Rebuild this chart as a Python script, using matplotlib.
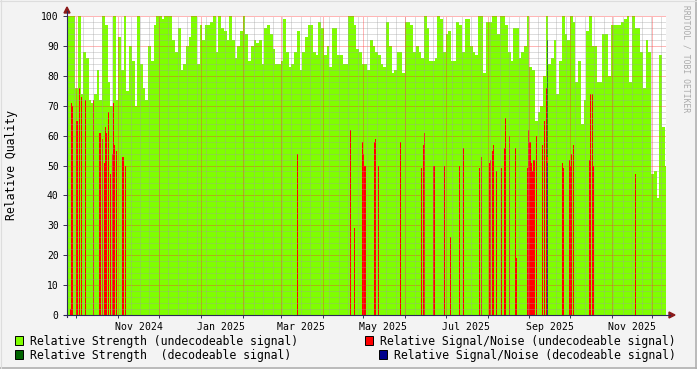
import numpy as np
import matplotlib
matplotlib.use('Agg')
import matplotlib.pyplot as plt
import matplotlib.dates as mdates
from matplotlib.patches import Rectangle, Polygon
from matplotlib.lines import Line2D
from datetime import datetime, timedelta

# ---- data ----
start = datetime(2024, 9, 24)
end = datetime(2025, 12, 11)

# relative strength (undecodeable), one value per 2 days from start
strength = [
    100, 100, 100, 76, 100, 74, 88, 86, 72, 71,
    74, 82, 72, 100, 97, 78, 70, 100, 72, 93,
    82, 100, 75, 90, 85, 70, 100, 84, 76, 72,
    90, 85, 97, 100, 100, 99, 100, 100, 100, 92,
    88, 96, 82, 84, 90, 93, 100, 100, 84, 97,
    92, 97, 97, 98, 100, 88, 100, 96, 95, 92,
    100, 92, 86, 90, 95, 100, 94, 85, 90, 92,
    91, 92, 84, 96, 97, 94, 89, 84, 84, 85,
    99, 88, 83, 84, 88, 95, 82, 88, 93, 97,
    97, 88, 87, 98, 96, 87, 90, 83, 96, 96,
    87, 87, 84, 84, 100, 100, 97, 89, 88, 84,
    84, 82, 92, 90, 88, 87, 84, 83, 98, 90,
    81, 82, 88, 88, 81, 98, 98, 97, 88, 90,
    88, 86, 100, 96, 85, 85, 86, 100, 99, 88,
    94, 95, 85, 85, 98, 97, 88, 99, 99, 90,
    88, 87, 100, 100, 81, 98, 98, 100, 100, 94,
    100, 100, 97, 88, 85, 96, 96, 86, 88, 90,
    100, 83, 82, 65, 68, 70, 80, 100, 84, 86,
    92, 74, 85, 100, 94, 92, 100, 98, 78, 85,
    64, 72, 95, 100, 90, 90, 78, 78, 94, 94,
    80, 97, 97, 97, 97, 98, 99, 100, 78, 100,
    96, 96, 88, 76, 92, 88, 47, 48, 39, 87,
    63, 50,
]

# relative signal/noise (undecodeable)
snr_dates = [
    '2024-09-26', '2024-09-27', '2024-09-28', '2024-10-01', '2024-10-03',
    '2024-10-04', '2024-10-07', '2024-10-13', '2024-10-18', '2024-10-20',
    '2024-10-21', '2024-10-22', '2024-10-23', '2024-10-24', '2024-10-26',
    '2024-10-27', '2024-10-28', '2024-10-29', '2024-10-30', '2024-11-04',
    '2024-11-06', '2025-03-13', '2025-04-21', '2025-04-24', '2025-04-30',
    '2025-05-01', '2025-05-02', '2025-05-09', '2025-05-10', '2025-05-12',
    '2025-05-28', '2025-06-13', '2025-06-14', '2025-06-15', '2025-06-22',
    '2025-06-30', '2025-07-04', '2025-07-11', '2025-07-14', '2025-07-26',
    '2025-07-27', '2025-08-02', '2025-08-03', '2025-08-04', '2025-08-05',
    '2025-08-07', '2025-08-11', '2025-08-13', '2025-08-14', '2025-08-17',
    '2025-08-21', '2025-08-22', '2025-08-30', '2025-08-31', '2025-09-01',
    '2025-09-02', '2025-09-03', '2025-09-04', '2025-09-06', '2025-09-10',
    '2025-09-12', '2025-09-13', '2025-09-14', '2025-09-25', '2025-09-26',
    '2025-09-30', '2025-10-01', '2025-10-02', '2025-10-03', '2025-10-15',
    '2025-10-16', '2025-10-17', '2025-10-18', '2025-11-18',
]
snr_vals = [
    2, 71, 70, 65, 76, 73, 72, 72, 61, 59,
    51, 63, 61, 68, 47, 54, 71, 57, 55, 53,
    50, 54, 62, 29, 58, 54, 50, 58, 59, 50,
    58, 49, 57, 61, 50, 50, 26, 50, 56, 49,
    53, 51, 52, 55, 57, 48, 49, 56, 66, 60,
    56, 19, 49, 62, 58, 51, 48, 52, 60, 57,
    65, 76, 53, 51, 49, 52, 50, 54, 57, 52,
    74, 74, 50, 47,
]

# decodeable signal
dec_dates = ['2025-09-14']
dec_strength = [92]
dec_snr = [51]

# ---- figure ----
W, H = 697, 369
L, R, T, B = 67, 666, 16, 315
fig = plt.figure(figsize=(W / 100, H / 100), dpi=100, facecolor='#F3F3F3')
ax = fig.add_axes([L / W, 1 - B / H, (R - L) / W, (B - T) / H])
ax.set_facecolor('white')

mono = 'DejaVu Sans Mono'
c_green = '#7FFF00'
c_dgreen = '#006400'
c_red = '#FF0000'
c_blue = '#00008B'

t0 = mdates.date2num(start)
t1 = mdates.date2num(end)
edges = t0 + 2 * np.arange(len(strength) + 1)
ax.stairs(strength, edges, fill=True, color=c_green, linewidth=0, zorder=1)

d_x = mdates.date2num([datetime.strptime(d, '%Y-%m-%d') for d in dec_dates])
s_x = mdates.date2num([datetime.strptime(d, '%Y-%m-%d') for d in snr_dates])
ax.bar(d_x, dec_strength, width=0.9, align='edge', color=c_dgreen,
       linewidth=0, antialiased=False, zorder=1.1)
ax.bar(s_x, snr_vals, width=0.8, align='edge', color=c_red,
       linewidth=0, antialiased=False, zorder=1.2)
ax.bar(d_x, dec_snr, width=0.9, align='edge', color=c_blue,
       linewidth=0, antialiased=False, zorder=1.3)

ax.set_xlim(t0, t1)
ax.set_ylim(0, 100)

# grid, rrdtool style dotted
dot = (0, (1, 1))
for v in range(2, 100, 2):
    if v % 10:
        ax.axhline(v, color='#A0A0A0', lw=0.72, ls=dot, alpha=0.35,
                   antialiased=False, zorder=3)
for v in range(10, 101, 10):
    ax.axhline(v, color='#FF3030', lw=0.72, ls=dot, alpha=0.35,
               antialiased=False, zorder=3)

wk = datetime(2024, 9, 29)
while wk < end:
    ax.axvline(mdates.date2num(wk), color='#A0A0A0', lw=0.72, ls=dot, alpha=0.35,
               antialiased=False, zorder=3)
    wk += timedelta(days=7)
months = []
y, m = 2024, 10
while datetime(y, m, 1) < end:
    months.append(datetime(y, m, 1))
    m += 1
    if m > 12:
        y, m = y + 1, 1
for mo in months:
    ax.axvline(mdates.date2num(mo), color='#FF3030', lw=0.72, ls=dot, alpha=0.35,
               antialiased=False, zorder=3)

# ticks
for s in ['top', 'right', 'left', 'bottom']:
    ax.spines[s].set_visible(False)
ax.set_yticks(range(0, 101, 10))
ax.set_yticklabels([str(v) for v in range(0, 101, 10)], fontfamily=mono, fontsize=7)
ax.tick_params(axis='y', length=3, direction='out', pad=3, color='#333355', width=0.7)
ax.set_xticks(mdates.date2num(months))
ax.set_xticklabels([''] * len(months))
ax.tick_params(axis='x', length=2, direction='out', color='#333355', width=0.7)
for mo in months:
    if mo.month % 2 == 1:
        mid = mdates.date2num(mo + timedelta(days=15))
        ax.text(mid, -2.2, mo.strftime('%b %Y'), ha='center', va='top',
                fontfamily=mono, fontsize=7.1, color='black', clip_on=False)

# axes with arrows
def px(x, y):
    return (x / W, 1 - y / H)

fig.add_artist(Line2D([L / W, L / W], [1 - 317 / H, 1 - 11 / H], color='#2A2A55', lw=0.8))
fig.add_artist(Line2D([64 / W, 670 / W], [1 - B / H, 1 - B / H], color='#2A2A55', lw=0.8))
fig.add_artist(Polygon([px(64, 13), px(70, 13), px(67, 7)], closed=True,
                       color='#8B1A1A', transform=fig.transFigure))
fig.add_artist(Polygon([px(669, 312), px(669, 318), px(675, 315)], closed=True,
                       color='#8B1A1A', transform=fig.transFigure))

fig.text(12 / W, 1 - 165 / H, 'Relative Quality', rotation=90, ha='center', va='center',
         fontfamily=mono, fontsize=8.3)
fig.text(686 / W, 1 - 5 / H, 'RRDTOOL / TOBI OETIKER', rotation=270, ha='center', va='top',
         fontfamily=mono, fontsize=5.8, color='#AAAAAA')

# legend
legend = [
    (15, 336, c_green, 30, 'Relative Strength (undecodeable signal)'),
    (15, 350, c_dgreen, 30, 'Relative Strength  (decodeable signal)'),
    (365, 336, c_red, 380, 'Relative Signal/Noise (undecodeable signal)'),
    (379, 350, c_blue, 394, 'Relative Signal/Noise (decodeable signal)'),
]
for mx, my, col, tx, label in legend:
    fig.add_artist(Rectangle(px(mx, my + 9), 8 / W, 9 / H, facecolor=col,
                             edgecolor='black', lw=0.7, transform=fig.transFigure))
    fig.text(tx / W, 1 - (my + 5) / H, label, ha='left', va='center',
             fontfamily=mono, fontsize=8.3)

# frame
fig.add_artist(Line2D([0, 1], [1 - 367.5 / H, 1 - 367.5 / H], color='#B0B0B0', lw=1.2))
fig.add_artist(Line2D([695.5 / W, 695.5 / W], [0, 1], color='#B0B0B0', lw=1.2))
fig.add_artist(Line2D([0, 1], [1 - 0.5 / H, 1 - 0.5 / H], color='#DDDDDD', lw=0.8))
fig.add_artist(Line2D([0.5 / W, 0.5 / W], [0, 1], color='#DDDDDD', lw=0.8))

fig.savefig('out.png', dpi=100, facecolor=fig.get_facecolor())
